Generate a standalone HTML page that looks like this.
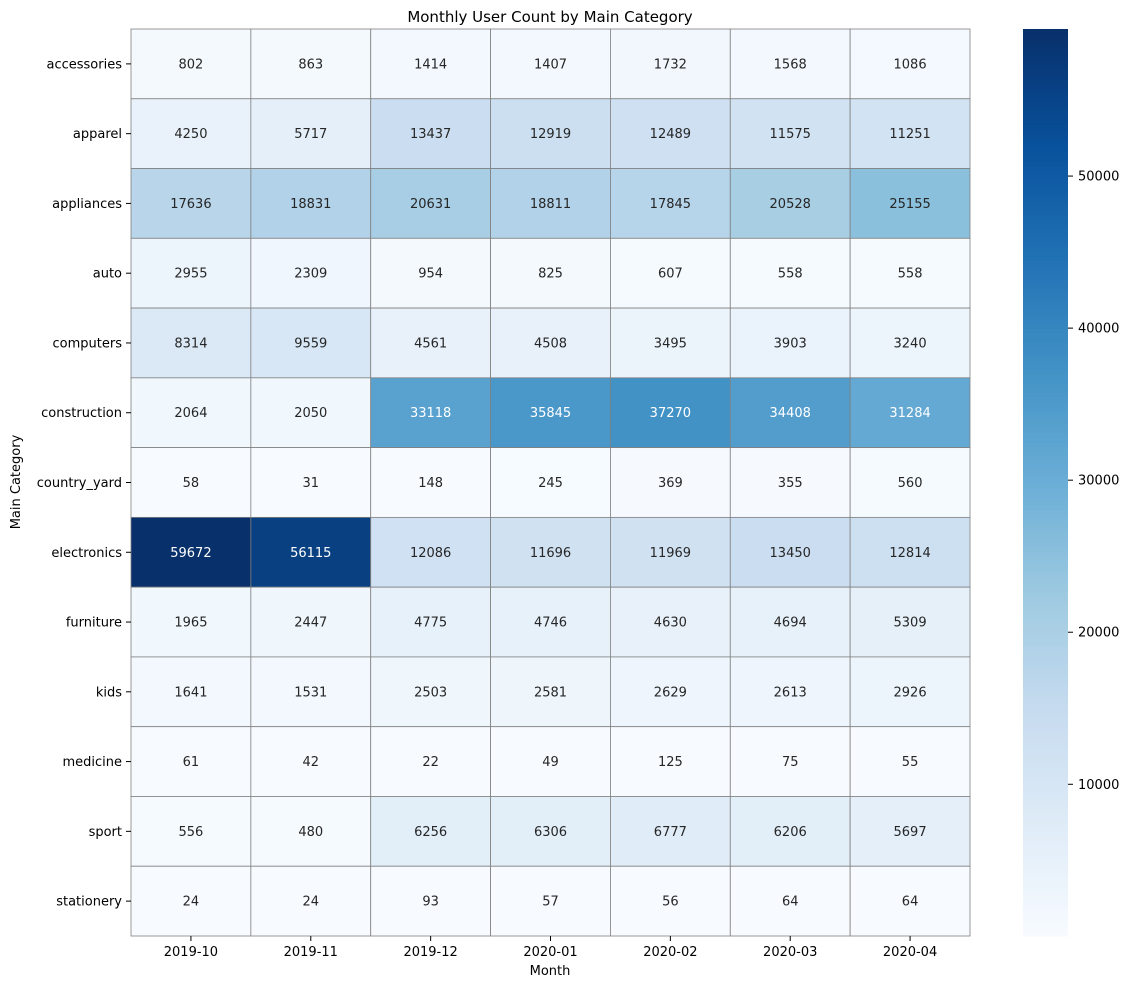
<!DOCTYPE html>
<html><head><meta charset="utf-8"><style>
body{margin:0;background:#fff;font-family:"Liberation Sans","DejaVu Sans",sans-serif}
svg text{font-family:"DejaVu Sans","Liberation Sans",sans-serif}
</style></head><body>
<svg id="chart" width="1132" height="989" xmlns="http://www.w3.org/2000/svg">
<text x="550" y="22" font-size="15" text-anchor="middle">Monthly User Count by Main Category</text>
<text x="550" y="975" font-size="13" text-anchor="middle">Month</text>
<text x="20" y="482" font-size="13" text-anchor="middle" transform="rotate(-90 20 482)">Main Category</text>
<g id="cells"></g><g id="ylabels"></g><g id="xlabels"></g><g id="cbar"></g>
</svg>
<script>
const months=["2019-10","2019-11","2019-12","2020-01","2020-02","2020-03","2020-04"];
const categories=["accessories","apparel","appliances","auto","computers","construction","country_yard","electronics","furniture","kids","medicine","sport","stationery"];
const values=[
[802,863,1414,1407,1732,1568,1086],
[4250,5717,13437,12919,12489,11575,11251],
[17636,18831,20631,18811,17845,20528,25155],
[2955,2309,954,825,607,558,558],
[8314,9559,4561,4508,3495,3903,3240],
[2064,2050,33118,35845,37270,34408,31284],
[58,31,148,245,369,355,560],
[59672,56115,12086,11696,11969,13450,12814],
[1965,2447,4775,4746,4630,4694,5309],
[1641,1531,2503,2581,2629,2613,2926],
[61,42,22,49,125,75,55],
[556,480,6256,6306,6777,6206,5697],
[24,24,93,57,56,64,64]];
const cbTicks=[10000,20000,30000,40000,50000];
const NS="http://www.w3.org/2000/svg";
const X0=131,X1=970,Y0=29,Y1=936;
const cw=(X1-X0)/months.length, rh=(Y1-Y0)/categories.length;
const flat=values.flat(), vmin=Math.min(...flat), vmax=Math.max(...flat);
const stops=["#f7fbff","#deebf7","#c6dbef","#9ecae1","#6baed6","#4292c6","#2171b5","#08519c","#08306b"].map(h=>[1,3,5].map(i=>parseInt(h.substr(i,2),16)));
function cmap(t){t=Math.max(0,Math.min(1,t))*8;const i=Math.min(7,Math.floor(t)),f=t-i;return stops[i].map((c,k)=>c+(stops[i+1][k]-c)*f);}
function norm(v){return (v-vmin)/(vmax-vmin);}
function lin(c){c/=255;return c<=0.03928?c/12.92:Math.pow((c+0.055)/1.055,2.4);}
function mk(tag,attrs,parent){const e=document.createElementNS(NS,tag);for(const k in attrs)e.setAttribute(k,attrs[k]);parent.appendChild(e);return e;}
const cells=document.getElementById('cells');
values.forEach((row,r)=>row.forEach((v,c)=>{
 const col=cmap(norm(v));
 const rect=mk('rect',{x:X0+c*cw,y:Y0+r*rh,width:cw,height:rh,fill:`rgb(${col.map(Math.round)})`,stroke:'#808080','stroke-width':0.8},cells);
 
 
 const lum=0.2126*lin(col[0])+0.7152*lin(col[1])+0.0722*lin(col[2]);
 const t=mk('text',{x:X0+(c+.5)*cw,y:Y0+(r+.5)*rh+4.5,'font-size':13,'text-anchor':'middle',fill:lum>0.408?'#262626':'#ffffff'},cells);
 t.textContent=v;
 
 
}));
const yl=document.getElementById('ylabels');
categories.forEach((n,r)=>{const y=Y0+(r+.5)*rh;
 mk('line',{x1:X0-5,x2:X0,y1:y,y2:y,stroke:'#000'},yl);
 const t=mk('text',{x:X0-9,y:y+4.5,'font-size':13,'text-anchor':'end'},yl);t.textContent=n;
 
 });
const xl=document.getElementById('xlabels');
months.forEach((m,c)=>{const x=X0+(c+.5)*cw;
 mk('line',{x1:x,x2:x,y1:Y1,y2:Y1+5,stroke:'#000'},xl);
 const t=mk('text',{x:x,y:Y1+20,'font-size':13,'text-anchor':'middle'},xl);t.textContent=m;
 
 });
const cb=document.getElementById('cbar');
const CX=1023,CW=45,N=200;
for(let i=0;i<N;i++){const col=cmap(i/(N-1));
 mk('rect',{x:CX,y:Y1-(i+1)*(Y1-Y0)/N,width:CW,height:(Y1-Y0)/N+0.6,fill:`rgb(${col.map(Math.round)})`},cb);}
const cbY=v=>Y1-(v-vmin)/(vmax-vmin)*(Y1-Y0);
cbTicks.forEach(v=>{const y=cbY(v);
 mk('line',{x1:CX+CW,x2:CX+CW+5,y1:y,y2:y,stroke:'#000'},cb);
 const t=mk('text',{x:CX+CW+10,y:y+4.5,'font-size':13},cb);t.textContent=v;
 
 });
</script>
</body></html>
